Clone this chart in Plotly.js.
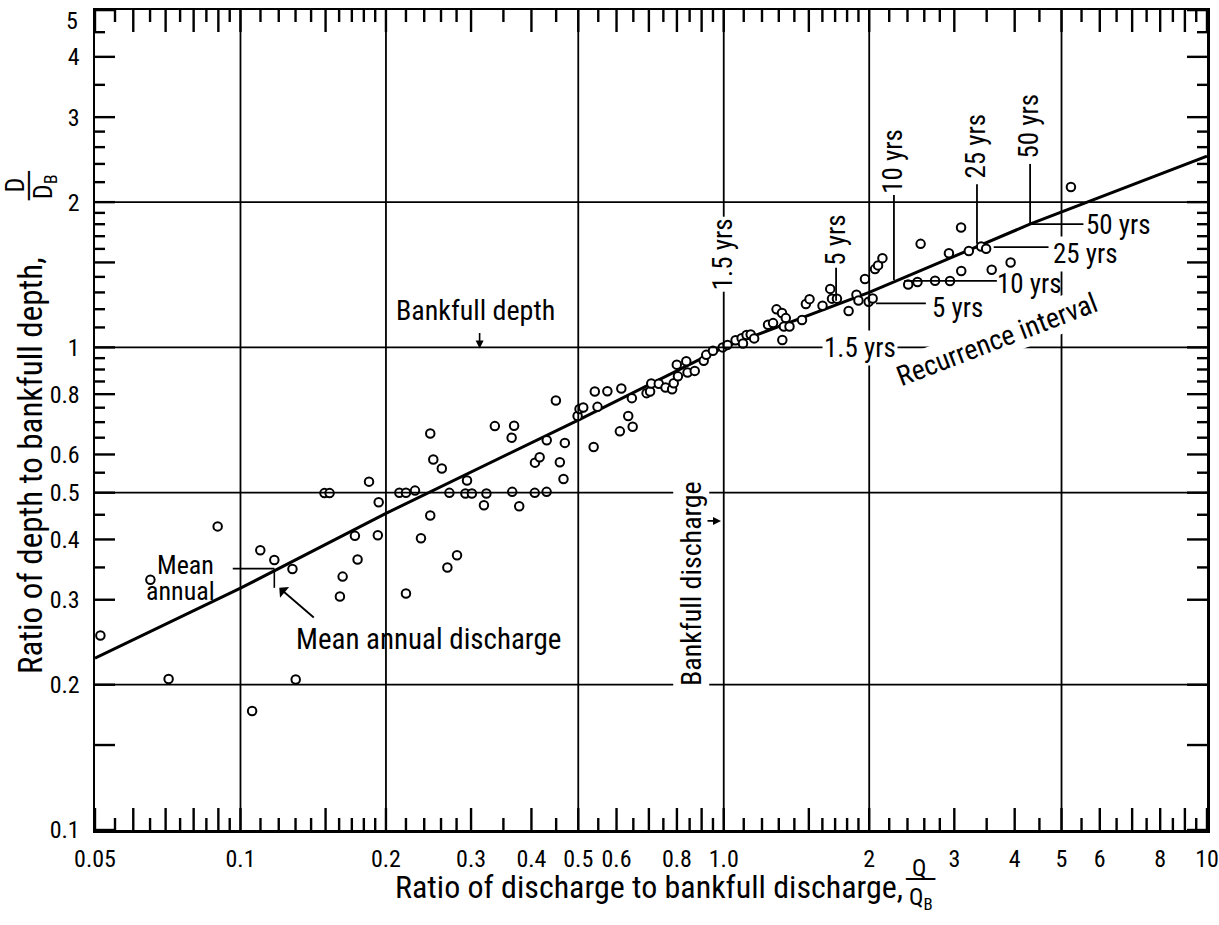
<!DOCTYPE html>
<html><head><meta charset="utf-8">
<script src="https://cdn.plot.ly/plotly-3.0.1.min.js"></script>
<style>html,body{margin:0;padding:0;background:#fff}#chart{width:1219px;height:925px}</style>
</head><body><div id="chart"></div>
<script>
// Observed points: ratio of discharge to bankfull discharge (Q/QB) and depth ratio (D/DB)
const dischargeRatio = [0.0513,0.0651,0.0710,0.0897,0.1057,0.1099,0.1175,0.1281,0.1301,0.1492,
  0.1529,0.1845,0.1932,0.1725,0.1924,0.1747,0.1627,0.1606,0.220,0.2132,
  0.220,0.2297,0.2363,0.247,0.247,0.2506,0.261,0.268,0.2806,0.2943,
  0.2706,0.292,0.3012,0.3228,0.319,0.336,0.3683,0.364,0.365,0.3774,
  0.4064,0.430,0.4068,0.416,0.4303,0.458,0.469,0.466,0.4494,0.4984,
  0.503,0.512,0.548,0.541,0.5744,0.6139,0.538,0.6096,0.6344,0.648,
  0.6455,0.6924,0.704,0.708,0.7338,0.7578,0.782,0.788,0.804,0.7996,
  0.8365,0.8416,0.871,0.909,0.920,0.950,0.995,1.018,1.058,1.089,
  1.115,1.137,1.156,1.096,1.235,1.265,1.286,1.32,1.344,1.332,
  1.368,1.322,1.452,1.479,1.505,1.601,1.661,1.675,1.715,1.813,
  1.882,1.90,1.995,2.033,1.96,2.056,2.086,2.13,2.408,2.517,
  2.737,2.939,2.555,3.098,3.101,2.924,3.215,3.409,3.491,3.585,
  3.923,5.229];
const depthRatio = [0.253,0.330,0.2055,0.4257,0.1765,0.380,0.3625,0.3475,0.205,0.499,
  0.499,0.527,0.4775,0.4069,0.408,0.3636,0.335,0.3048,0.309,0.500,
  0.500,0.505,0.4024,0.4483,0.663,0.586,0.561,0.350,0.371,0.530,
  0.4996,0.498,0.498,0.498,0.471,0.687,0.688,0.650,0.502,0.4685,
  0.4996,0.502,0.577,0.592,0.642,0.578,0.634,0.5337,0.776,0.721,
  0.7453,0.751,0.753,0.810,0.811,0.822,0.6216,0.670,0.7206,0.685,
  0.785,0.804,0.810,0.842,0.841,0.826,0.819,0.843,0.871,0.921,
  0.936,0.887,0.894,0.938,0.965,0.984,1.0,1.012,1.035,1.045,
  1.061,1.064,1.044,1.019,1.114,1.123,1.199,1.178,1.15,1.105,
  1.105,1.036,1.14,1.23,1.259,1.22,1.322,1.262,1.262,1.19,
  1.286,1.251,1.243,1.263,1.386,1.453,1.479,1.531,1.350,1.366,
  1.374,1.373,1.639,1.772,1.44,1.567,1.584,1.618,1.601,1.448,
  1.50,2.15];

// Fitted relation
const fitQ = [0.05, 0.1, 0.2, 0.5, 1, 2, 4.3, 10];
const fitD = [0.227, 0.317, 0.453, 0.707, 1.0, 1.30, 1.80, 2.49];

// Axis ticks
const xTickVals = [0.05,0.06,0.07,0.08,0.09,0.1,0.15,0.2,0.3,0.4,0.5,0.6,0.7,0.8,0.9,1,1.5,2,3,4,5,6,7,8,9,10];
const xTickText = ['0.05','','','','','0.1','','0.2','0.3','0.4','0.5','0.6','','0.8','','1.0','','2','3','4','5','6','','8','','10'];
const xMinorVals = [0.055,0.065,0.075,0.085,0.095,0.11,0.12,0.13,0.14,0.16,0.17,0.18,0.19,
  0.22,0.24,0.26,0.28,0.35,0.45,0.55,0.65,0.75,0.85,0.95,1.1,1.2,1.3,1.4,1.6,1.7,1.8,1.9,
  2.2,2.4,2.6,2.8,3.5,4.5,5.5,6.5,7.5,8.5,9.5];
const yTickVals = [0.1,0.15,0.2,0.3,0.4,0.5,0.6,0.8,1,1.5,2,3,4,5];
const yTickText = ['0.1','','0.2','0.3','0.4','0.5','0.6','0.8','1','','2','3','4',''];
const yTopLabel = '5';
const yMinorVals = [0.35,0.45,0.55,0.65,0.7,0.75,0.85,0.9,0.95,1.1,1.2,1.3,1.4,1.6,1.7,1.8,1.9,
  2.2,2.4,2.6,2.8,3.5,4.5];
const xGridVals = [0.1, 0.2, 0.5, 1, 2, 5];
const yGridVals = [0.2, 0.5, 1, 2];

const FONT = "'Liberation Sans Narrow', 'Roboto Condensed', 'DejaVu Sans Condensed', Roboto, sans-serif";
const L = Math.log10;
const X_MIN = 0.05, X_MAX = 10, Y_MIN = 0.1, Y_MAX = 5.002;
const BLK = '#000';
const TICK_W = 2.4;

// ---- shapes: grid lines, tick marks and annotation leaders
const shapes = [];
function ln(xref, yref, x0, y0, x1, y1, w) {
  shapes.push({type:'line', xref:xref, yref:yref, x0:x0, y0:y0, x1:x1, y1:y1,
    line:{color:BLK, width:w || 1.8}, layer:'above'});
}
xGridVals.forEach(v => ln('x', 'paper', v, 0, v, 1));
yGridVals.forEach(v => ln('paper', 'y', 0, v, 1, v));
// inside ticks on all four sides, lengths in pixels
function xTicks(vals, len) {
  vals.forEach(v => {
    shapes.push({type:'line', xref:'x', yref:'paper', ysizemode:'pixel', yanchor:0, x0:v, x1:v, y0:0, y1:len,
      line:{color:BLK, width:TICK_W}, layer:'above'});
    shapes.push({type:'line', xref:'x', yref:'paper', ysizemode:'pixel', yanchor:1, x0:v, x1:v, y0:0, y1:-len,
      line:{color:BLK, width:TICK_W}, layer:'above'});
  });
}
function yTicks(vals, len) {
  vals.forEach(v => {
    shapes.push({type:'line', xref:'paper', yref:'y', xsizemode:'pixel', xanchor:0, y0:v, y1:v, x0:0, x1:len,
      line:{color:BLK, width:TICK_W}, layer:'above'});
    shapes.push({type:'line', xref:'paper', yref:'y', xsizemode:'pixel', xanchor:1, y0:v, y1:v, x0:0, x1:-len,
      line:{color:BLK, width:TICK_W}, layer:'above'});
  });
}
xTicks(xTickVals, 22); xTicks(xMinorVals, 12);
yTicks(yTickVals, 20); yTicks(yMinorVals, 10);

function seg(x0, y0, x1, y1, w) { ln('x', 'y', x0, y0, x1, y1, w); }
// recurrence-interval leaders
seg(1.708, 1.25, 1.708, 1.462);
seg(2.066, 1.234, 2.62, 1.234);
seg(2.25, 1.38, 2.25, 2.07);
seg(2.363, 1.373, 3.674, 1.373);
seg(3.342, 1.64, 3.342, 2.177);
seg(3.62, 1.613, 4.70, 1.613);
seg(4.305, 1.80, 4.305, 2.40);
seg(4.31, 1.80, 5.55, 1.80);
// mean annual mark
seg(0.0964, 0.348, 0.1175, 0.348, 1.6);
seg(0.1175, 0.348, 0.1175, 0.3175, 1.6);

function lab(text, qx, dy, opt) {
  return Object.assign({text:text, x:L(qx), y:L(dy), xref:'x', yref:'y', showarrow:false,
    xanchor:'center', yanchor:'middle', font:{family:FONT, size:27, color:BLK}, borderpad:1}, opt || {});
}
function ptxt(text, x, y, size, opt) {
  return Object.assign({text:text, xref:'paper', yref:'paper', x:x, y:y, showarrow:false,
    xanchor:'center', yanchor:'middle', font:{family:FONT, size:size, color:BLK}}, opt || {});
}
const BAR_FONT = {family:"'DejaVu Sans', sans-serif", size:24, color:BLK};
const WHITE = {bgcolor:'#fff'};
const annotations = [
  lab('1.5 yrs', 1.0, 1.558, {textangle:-90, bgcolor:'#fff'}),
  lab('1.5 yrs', 1.918, 0.997, WHITE),
  lab('5 yrs', 1.708, 1.664, {textangle:-90}),
  lab('5 yrs', 3.04, 1.206),
  lab('10 yrs', 2.24, 2.425, {textangle:-90}),
  lab('10 yrs', 4.30, 1.356),
  lab('25 yrs', 3.33, 2.61, {textangle:-90}),
  lab('25 yrs', 5.61, 1.561, WHITE),
  lab('50 yrs', 4.28, 2.88, {textangle:-90}),
  lab('50 yrs', 6.56, 1.796),
  lab('Recurrence interval', 3.68, 1.036, {textangle:-21, bgcolor:'#fff', font:{family:FONT, size:28, color:BLK}}),
  lab('Bankfull depth', 0.3067, 1.194, {font:{family:FONT, size:28, color:BLK}}),
  lab('Bankfull discharge', 0.857, 0.324, {textangle:-90, bgcolor:'#fff', font:{family:FONT, size:28, color:BLK}}),
  lab('Mean', 0.0770, 0.354, {font:{family:FONT, size:26, color:BLK}}),
  lab('annual', 0.0751, 0.3131, {font:{family:FONT, size:26, color:BLK}}),
  lab('Mean annual discharge', 0.2449, 0.249, {font:{family:FONT, size:29, color:BLK}}),
  // arrows
  {text:'', x:L(0.3125), y:L(0.995), xref:'x', yref:'y', showarrow:true, ax:0, ay:-17, arrowhead:2, arrowsize:1, arrowwidth:1.6, arrowcolor:BLK, standoff:0},
  {text:'', x:L(0.987), y:L(0.437), xref:'x', yref:'y', showarrow:true, ax:-15, ay:0, arrowhead:2, arrowsize:1, arrowwidth:1.6, arrowcolor:BLK, standoff:0},
  {text:'', x:L(0.1203), y:L(0.3176), xref:'x', yref:'y', showarrow:true, ax:36, ay:31, arrowhead:1, arrowsize:1.3, arrowwidth:1.8, arrowcolor:BLK, standoff:0},
  // top y tick label (sits just below its tick, as in the original)
  ptxt(yTopLabel, -0.0135, 0.9866, 24, {xanchor:'right'}),
  // axis titles
  ptxt('Ratio of discharge to bankfull discharge,', 0.498, -0.0695, 32),
  ptxt('Q', 0.741, -0.0463, 24),
  ptxt('\u2500\u2500', 0.7415, -0.0598, 0, {font:BAR_FONT}),
  ptxt('Q<sub>B</sub>', 0.743, -0.083, 24),
  ptxt('Ratio of depth to bankfull depth,', -0.0585, 0.445, 33, {textangle:-90}),
  ptxt('D', -0.072, 0.787, 26, {textangle:-90}),
  ptxt('\u2500\u2500', -0.0595, 0.785, 0, {textangle:-90, font:BAR_FONT}),
  ptxt('D<sub>B</sub>', -0.046, 0.785, 26, {textangle:-90})
];

const traces = [
  {x: fitQ, y: fitD, mode:'lines', line:{color:BLK, width:3}, hoverinfo:'skip'},
  {x: dischargeRatio, y: depthRatio, mode:'markers',
   marker:{symbol:'circle', size:8.5, color:'#fff', line:{color:BLK, width:2}}}
];

const axisCommon = {
  type:'log', tickmode:'array', ticks:'',
  showline:true, linewidth:2.5, linecolor:BLK, mirror:true, showgrid:false, zeroline:false,
  tickfont:{family:FONT, size:24, color:BLK}
};
const layout = {
  width:1219, height:925,
  margin:{l:95, r:12, t:10, b:95},
  paper_bgcolor:'#fff', plot_bgcolor:'#fff',
  showlegend:false,
  xaxis: Object.assign({}, axisCommon, {
    range:[L(X_MIN), L(X_MAX)], tickvals:xTickVals, ticktext:xTickText, ticklabelstandoff:6
  }),
  yaxis: Object.assign({}, axisCommon, {
    range:[L(Y_MIN), L(Y_MAX)], tickvals:yTickVals, ticktext:yTickText, ticklabelstandoff:8
  }),
  shapes: shapes,
  annotations: annotations
};
Plotly.newPlot('chart', traces, layout, {displayModeBar:false, staticPlot:true});
</script>
</body></html>
